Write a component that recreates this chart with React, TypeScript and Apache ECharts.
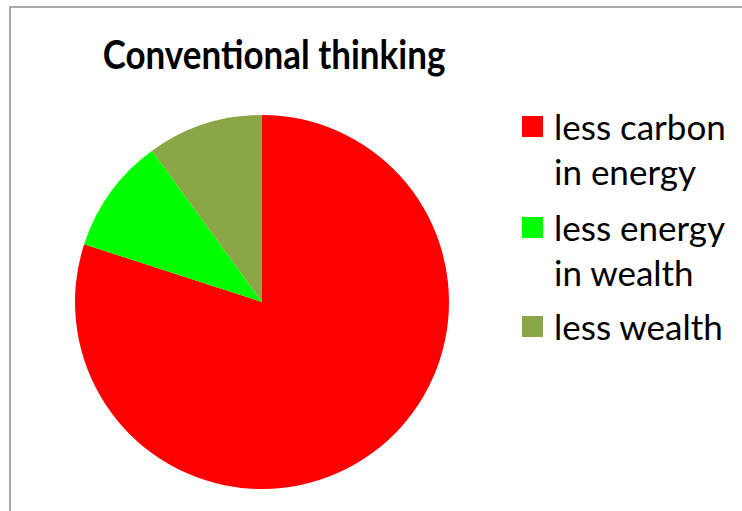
import React, { useEffect, useRef } from "react";
import * as echarts from "echarts";

const titleText = "Conventional thinking";
const categories = ["less carbon\nin energy", "less energy\nin wealth", "less wealth"];
const values = [80, 10, 10];
const colors = ["#FF0000", "#00FF00", "#8AA646"];

export default function App() {
  const ref = useRef<HTMLDivElement>(null);
  useEffect(() => {
    if (!ref.current) return;
    const chart = echarts.init(ref.current, null, { renderer: "svg" });
    const legendTops = [115, 216, 315];
    const legendGraphics: any[] = [];
    categories.forEach((name, i) => {
      legendGraphics.push({
        type: "rect",
        shape: { x: 522, y: legendTops[i] + 1, width: 21, height: 21 },
        style: { fill: colors[i] },
      });
      legendGraphics.push({
        type: "text",
        x: 554,
        y: legendTops[i] - 12,
        style: {
          text: name,
          font: "35px Lato",
          fill: "#000",
          lineHeight: 45,
          textAlign: "left",
          textVerticalAlign: "top",
        },
      });
    });
    chart.setOption({
      animation: false,
      graphic: [
        {
          type: "rect",
          shape: { x: 10, y: 7, width: 800, height: 600 },
          style: { fill: "none", stroke: "#8c8c8c", lineWidth: 1.5 },
        },
        {
          type: "text",
          x: 274,
          y: 73,
          scaleY: 1.12,
          style: {
            text: titleText,
            font: "bold 35px Lato",
            fill: "#000",
            textAlign: "center",
            textVerticalAlign: "bottom",
          },
        },
        ...legendGraphics,
      ],
      series: [
        {
          type: "pie",
          center: [262, 302],
          radius: 187,
          startAngle: 90,
          clockwise: true,
          label: { show: false },
          labelLine: { show: false },
          silent: true,
          itemStyle: { borderWidth: 0 },
          data: categories.map((name, i) => ({
            name,
            value: values[i],
            itemStyle: { color: colors[i] },
          })),
        },
      ],
    });
    return () => chart.dispose();
  }, []);
  return (
    <div
      ref={ref}
      style={{ position: "absolute", left: 0, top: 0, width: 742, height: 511, background: "#fff" }}
    />
  );
}
